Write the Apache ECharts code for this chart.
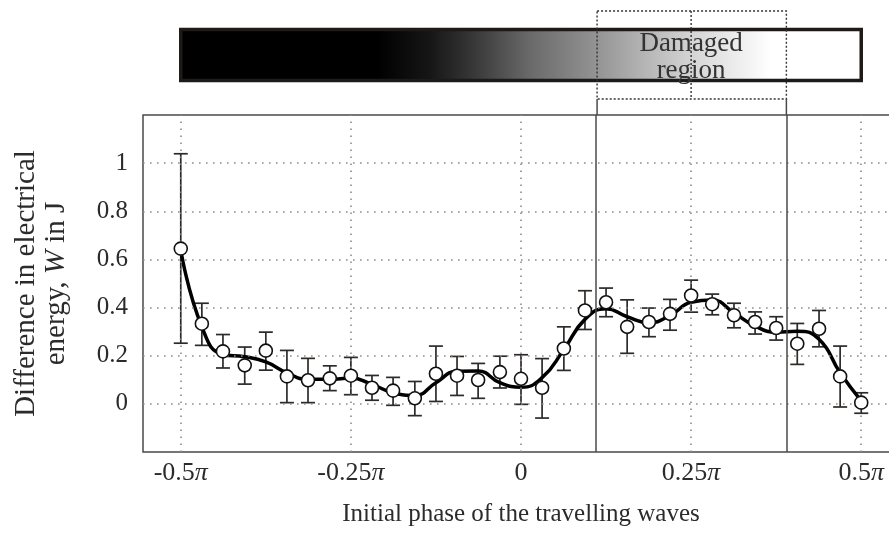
<!DOCTYPE html>
<html>
<head>
<meta charset="utf-8">
<script src="https://cdn.jsdelivr.net/npm/echarts@6.0.0/dist/echarts.min.js"></script>
<style>
  html, body { margin: 0; padding: 0; background: #fff; }
  #chart { width: 889px; height: 533px; }
</style>
</head>
<body>
<div id="chart"></div>
<script>
// initial phase, in units of pi
var phase = [-0.5, -0.469, -0.438, -0.406, -0.375, -0.344, -0.313, -0.281, -0.25, -0.219, -0.188,
  -0.156, -0.125, -0.094, -0.063, -0.031, 0, 0.031, 0.063, 0.094, 0.125, 0.156, 0.188, 0.219,
  0.25, 0.281, 0.313, 0.344, 0.375, 0.406, 0.438, 0.469, 0.5];
// measured difference in electrical energy W (J)
var energy = [0.645, 0.333, 0.218, 0.160, 0.221, 0.114, 0.098, 0.106, 0.117, 0.067, 0.055,
  0.023, 0.125, 0.117, 0.099, 0.132, 0.104, 0.067, 0.230, 0.388, 0.422, 0.320, 0.340, 0.374,
  0.450, 0.414, 0.368, 0.340, 0.315, 0.250, 0.312, 0.114, 0.005];
var errLow = [0.252, 0.243, 0.149, 0.082, 0.140, 0.005, 0.005, 0.055, 0.038, 0.015, -0.006,
  -0.049, 0.010, 0.035, 0.023, 0.066, -0.002, -0.059, 0.139, 0.309, 0.362, 0.210, 0.279, 0.306,
  0.381, 0.370, 0.316, 0.290, 0.265, 0.164, 0.237, -0.013, -0.039];
var errHigh = [1.039, 0.418, 0.288, 0.236, 0.298, 0.222, 0.189, 0.158, 0.193, 0.118, 0.110,
  0.093, 0.240, 0.197, 0.168, 0.198, 0.204, 0.188, 0.320, 0.470, 0.481, 0.432, 0.398, 0.434,
  0.514, 0.456, 0.418, 0.382, 0.362, 0.334, 0.388, 0.240, 0.046];
// fitted curve read at the same phases
var fitCurve = [0.64, 0.32, 0.205, 0.196, 0.174, 0.129, 0.102, 0.102, 0.107, 0.081, 0.046,
  0.035, 0.088, 0.135, 0.136, 0.088, 0.069, 0.109, 0.226, 0.351, 0.395, 0.362, 0.337, 0.367,
  0.422, 0.431, 0.378, 0.323, 0.298, 0.302, 0.268, 0.129, 0.012];

var xTicks = [-0.5, -0.25, 0, 0.25, 0.5];
var xTickLabels = ['-0.5{p|π}', '-0.25{p|π}', '0', '0.25{p|π}', '0.5{p|π}'];
var yTicks = [0, 0.2, 0.4, 0.6, 0.8, 1];
var damaged = [0.1118, 0.390];

var serif = '"Liberation Serif", "DejaVu Serif", serif';
var textColor = '#2b2b2b';

var pointData = [], fitData = [], errData = [];
for (var i = 0; i < phase.length; i++) {
  pointData.push([phase[i], energy[i]]);
  fitData.push([phase[i], fitCurve[i]]);
  errData.push([phase[i], errLow[i], errHigh[i]]);
}

var gridMarks = [];
xTicks.forEach(function (v) { gridMarks.push({ xAxis: v }); });
yTicks.forEach(function (v) { gridMarks.push({ yAxis: v }); });

var option = {
  animation: false,
  backgroundColor: '#fff',
  grid: {
    left: 143,
    width: 756,
    top: 115,
    bottom: 81,
    containLabel: false,
    outerBoundsMode: 'none',
    show: true,
    borderColor: '#4a4a4a',
    borderWidth: 1.5,
    backgroundColor: 'transparent'
  },
  xAxis: {
    type: 'value',
    min: -0.5555,
    max: 0.5555,
    name: 'Initial phase of the travelling waves',
    nameLocation: 'middle',
    nameGap: 50,
    nameTextStyle: { fontFamily: serif, fontSize: 25, color: textColor },
    axisLine: { show: false },
    axisTick: { show: false },
    splitLine: { show: false },
    axisLabel: {
      customValues: xTicks,
      margin: 8,
      fontFamily: serif,
      fontSize: 26,
      color: textColor,
      formatter: function (v) {
        var idx = -1;
        for (var j = 0; j < xTicks.length; j++) {
          if (Math.abs(xTicks[j] - v) < 1e-6) idx = j;
        }
        return idx >= 0 ? xTickLabels[idx] : '';
      },
      rich: {
        p: { fontFamily: serif, fontStyle: 'italic', fontSize: 26, color: textColor }
      }
    }
  },
  yAxis: {
    type: 'value',
    min: -0.2,
    max: 1.2,
    interval: 0.2,
    name: 'Difference in electrical\nenergy, {i|W} in J',
    nameLocation: 'middle',
    nameRotate: 90,
    nameGap: 72,
    nameTextStyle: {
      fontFamily: serif, fontSize: 29, color: textColor, lineHeight: 30,
      rich: {
        i: { fontFamily: serif, fontSize: 29, fontStyle: 'italic', color: textColor, lineHeight: 30 }
      }
    },
    axisLine: { show: false },
    axisTick: { show: false },
    splitLine: { show: false },
    axisLabel: {
      margin: 15,
      fontFamily: serif,
      fontSize: 25,
      color: textColor,
      formatter: function (v) {
        if (v < -0.01 || v > 1.01) return '';
        return String(Math.round(v * 10) / 10);
      }
    }
  },
  series: [{
    name: 'grid',
    type: 'line',
    data: [],
    z: 1,
    silent: true,
    markLine: {
      silent: true,
      symbol: 'none',
      label: { show: false },
      lineStyle: { color: '#8c8c8c', width: 1.6, type: [1.6, 5.4] },
      data: gridMarks
    }
  }, {
    name: 'region',
    type: 'line',
    data: [],
    z: 2,
    silent: true,
    markLine: {
      silent: true,
      symbol: 'none',
      label: { show: false },
      lineStyle: { color: '#4a4a4a', width: 1.5, type: 'solid' },
      data: damaged.map(function (v) { return { xAxis: v }; })
    }
  }, {
    name: 'error',
    type: 'custom',
    z: 3,
    data: errData,
    renderItem: function (params, api) {
      var lo = api.coord([api.value(0), api.value(1)]);
      var hi = api.coord([api.value(0), api.value(2)]);
      var w = 7;
      var st = { stroke: '#2e2a28', lineWidth: 1.7 };
      return {
        type: 'group',
        children: [
          { type: 'line', shape: { x1: lo[0], y1: lo[1], x2: hi[0], y2: hi[1] }, style: st },
          { type: 'line', shape: { x1: lo[0] - w, y1: lo[1], x2: lo[0] + w, y2: lo[1] }, style: st },
          { type: 'line', shape: { x1: hi[0] - w, y1: hi[1], x2: hi[0] + w, y2: hi[1] }, style: st }
        ]
      };
    }
  }, {
    name: 'fit',
    type: 'line',
    z: 4,
    data: fitData,
    smooth: 0.5,
    showSymbol: false,
    lineStyle: { color: '#000', width: 3.5 }
  }, {
    name: 'measured',
    type: 'scatter',
    z: 5,
    data: pointData,
    symbol: 'circle',
    symbolSize: 13,
    itemStyle: { color: '#fff', borderColor: '#111', borderWidth: 1.6, opacity: 1 }
  }]
};

var myChart = echarts.init(document.getElementById('chart'));
myChart.setOption(option);

// the strip above the plot: bar with gradient, damaged region box
function px(v) {
  return myChart.convertToPixel({ gridIndex: 0 }, [v, 0])[0];
}
var barL = px(-0.5), barR = px(0.5);
var dL = px(damaged[0]), dR = px(damaged[1]), dM = px(0.25);
var plotTop = 115;

myChart.setOption({
  graphic: [{
    type: 'rect',
    z: 10,
    shape: { x: barL, y: 29.5, width: barR - barL, height: 51 },
    style: {
      stroke: '#1e1a18',
      lineWidth: 3.5,
      fill: {
        type: 'linear', x: 0, y: 0, x2: 1, y2: 0,
        colorStops: [
          { offset: 0, color: '#000' },
          { offset: 0.29, color: '#000' },
          { offset: 0.367, color: '#161616' },
          { offset: 0.426, color: '#353535' },
          { offset: 0.514, color: '#6a6a6a' },
          { offset: 0.612, color: '#949494' },
          { offset: 0.69, color: '#b9b9b9' },
          { offset: 0.763, color: '#dadada' },
          { offset: 0.836, color: '#f4f4f4' },
          { offset: 0.865, color: '#fff' },
          { offset: 1, color: '#fff' }
        ]
      }
    }
  }, {
    type: 'rect',
    z: 11,
    shape: { x: dL, y: 11, width: dR - dL, height: 88 },
    style: { fill: 'none', stroke: '#333', lineWidth: 1.4, lineDash: [2, 2] }
  }, {
    type: 'line',
    z: 11,
    shape: { x1: dM, y1: 11, x2: dM, y2: 99 },
    style: { stroke: '#333', lineWidth: 1.4, lineDash: [2, 2] }
  }, {
    type: 'line',
    z: 11,
    shape: { x1: dL, y1: 99, x2: dL, y2: plotTop },
    style: { stroke: '#4a4a4a', lineWidth: 1.5 }
  }, {
    type: 'line',
    z: 11,
    shape: { x1: dR, y1: 99, x2: dR, y2: plotTop },
    style: { stroke: '#4a4a4a', lineWidth: 1.5 }
  }, {
    type: 'text',
    z: 12,
    x: dM,
    y: 57,
    style: {
      text: 'Damaged\nregion',
      font: '27px ' + serif,
      fill: '#333',
      align: 'center',
      verticalAlign: 'middle',
      lineHeight: 27
    }
  }]
});
</script>
</body>
</html>
